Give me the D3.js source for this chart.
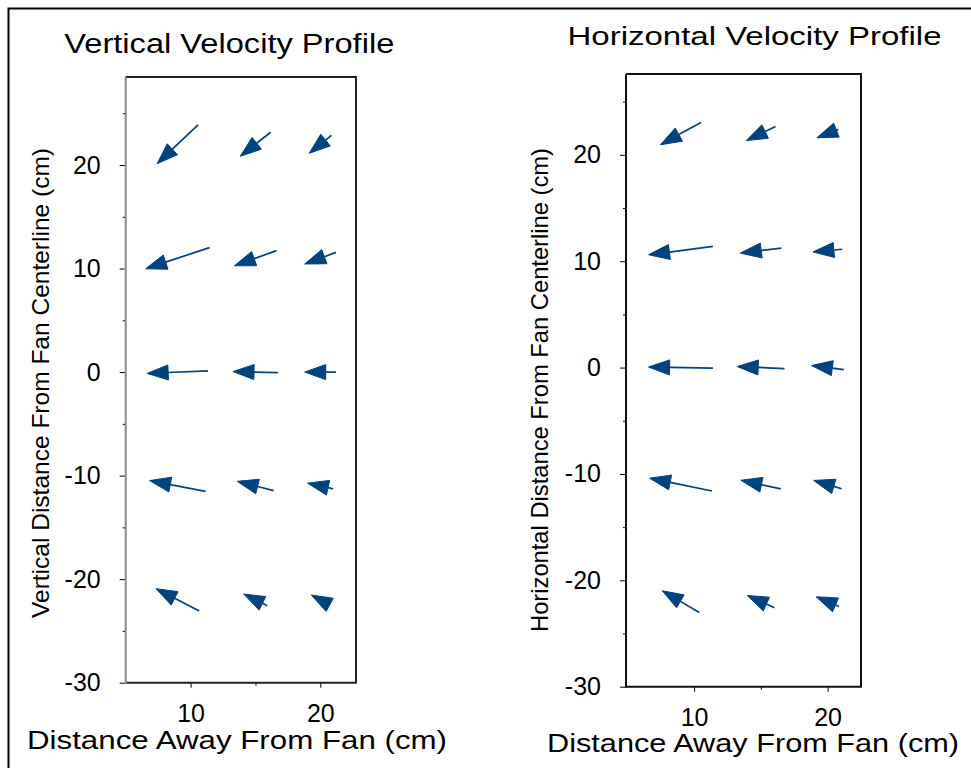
<!DOCTYPE html>
<html>
<head>
<meta charset="utf-8">
<script src="https://cdn.jsdelivr.net/npm/d3@7"></script>
<style>
  body { margin: 0; background: #fff; }
  text { font-family: Arial, "Liberation Sans", sans-serif; fill: #000; }
</style>
</head>
<body>
<div class="figure"></div>
<script>
// grid of measurement points (cm), arrows are centred on them
var gridX = [9, 15, 20];
var gridY = [22, 11, 0, -11, -22];

// vector components, one row per gridY value, one column per gridX value
var verticalU = [
  [-3.15, -2.34, -1.71],
  [-4.92, -3.25, -2.41],
  [-4.69, -3.46, -2.41],
  [-4.31, -2.81, -1.97],
  [-3.33, -1.82, -1.41]
];
var verticalV = [
  [-3.74, -2.32, -1.74],
  [-2.04, -1.46, -1.12],
  [-0.25,  0.10,  0.00],
  [ 1.04,  0.90,  0.55],
  [ 2.16,  1.13,  0.94]
];
var horizontalU = [
  [-3.04, -2.19, -1.61],
  [-4.82, -3.07, -2.20],
  [-4.82, -3.54, -2.42],
  [-4.67, -2.99, -2.09],
  [-2.77, -2.04, -1.72]
];
var horizontalV = [
  [-2.10, -1.32, -0.79],
  [-0.78, -0.47, -0.25],
  [ 0.10,  0.19,  0.38],
  [ 1.20,  0.81,  0.78],
  [ 2.04,  1.15,  0.91]
];

var yTicks = [-30, -25, -20, -15, -10, -5, 0, 5, 10, 15, 20, 25];
var xTicks = [10, 15, 20];

var arrowColor = "#00437f";
var headLen = 21, headHalf = 7.5;

var svg = d3.select(".figure").append("svg")
    .attr("width", 971)
    .attr("height", 768);

// outer frame (runs off the right and bottom of the picture)
svg.append("path")
    .attr("d", "M990,8.5 H8.5 V790")
    .attr("fill", "none")
    .attr("stroke", "#000")
    .attr("stroke-width", 2);

function drawPanel(p) {
  var x = d3.scaleLinear().domain(p.xDomain).range([p.left, p.right]);
  var y = d3.scaleLinear().domain(p.yDomain).range([p.bottom, p.top]);

  var g = svg.append("g");

  // y axis
  var yAxis = g.append("g")
      .attr("transform", "translate(" + p.left + ",0)")
      .call(d3.axisLeft(y)
        .tickValues(yTicks)
        .tickSize(6)
        .tickSizeOuter(0)
        .tickPadding(19)
        .tickFormat(function(d) { return d % 10 === 0 ? d : ""; }));
  yAxis.select(".domain").remove();
  yAxis.selectAll(".tick line")
      .attr("x2", function(d) { return d % 10 === 0 ? -6 : -3; })
      .attr("stroke", "#000");
  yAxis.selectAll(".tick text")
      .style("font-size", "25px")
      .attr("font-family", null);

  // x axis
  var xAxis = g.append("g")
      .attr("transform", "translate(0," + p.bottom + ")")
      .call(d3.axisBottom(x)
        .tickValues(xTicks)
        .tickSize(5)
        .tickSizeOuter(0)
        .tickPadding(17)
        .tickFormat(function(d) { return d % 10 === 0 ? d : ""; }));
  xAxis.select(".domain").remove();
  xAxis.selectAll(".tick line")
      .attr("y2", function(d) { return d % 10 === 0 ? 5 : 3; });
  xAxis.selectAll(".tick text")
      .style("font-size", "25px")
      .attr("font-family", null);

  // frame around the plot
  g.append("path")
      .attr("d", "M" + p.left + "," + p.top + " H" + p.right + " V" + p.bottom + " H" + p.left)
      .attr("fill", "none")
      .attr("stroke", p.frameColor)
      .attr("stroke-width", 2);
  g.append("line")
      .attr("x1", p.left).attr("x2", p.left)
      .attr("y1", p.top).attr("y2", p.bottom + 1)
      .attr("stroke", p.leftColor)
      .attr("stroke-width", 2);

  // arrows
  var arrows = [];
  gridY.forEach(function(gy, i) {
    gridX.forEach(function(gx, j) {
      arrows.push({x: gx, y: gy, u: p.u[i][j], v: p.v[i][j]});
    });
  });

  arrows.forEach(function(a) {
    var tx = x(a.x - a.u / 2), ty = y(a.y - a.v / 2);
    var hx = x(a.x + a.u / 2), hy = y(a.y + a.v / 2);
    var len = Math.sqrt((hx - tx) * (hx - tx) + (hy - ty) * (hy - ty));
    var dx = (hx - tx) / len, dy = (hy - ty) / len;
    var bx = hx - dx * headLen, by = hy - dy * headLen;
    if (len > headLen) {
      g.append("line")
          .attr("x1", tx).attr("y1", ty)
          .attr("x2", bx).attr("y2", by)
          .attr("stroke", arrowColor)
          .attr("stroke-width", 1.7);
    }
    g.append("path")
        .attr("d", "M" + hx + "," + hy +
                   " L" + (bx - dy * headHalf) + "," + (by + dx * headHalf) +
                   " L" + (bx + dy * headHalf) + "," + (by - dx * headHalf) + " Z")
        .attr("fill", arrowColor)
        .attr("stroke", arrowColor)
        .attr("stroke-width", 1);
  });

  // titles
  g.append("text")
      .attr("x", p.titleX).attr("y", p.titleY)
      .attr("text-anchor", "middle")
      .attr("textLength", p.titleLen)
      .attr("lengthAdjust", "spacingAndGlyphs")
      .style("font-size", p.titleSize + "px")
      .text(p.title);

  g.append("text")
      .attr("x", p.xLabelX).attr("y", p.xLabelY)
      .attr("text-anchor", "middle")
      .attr("textLength", p.xLabelLen)
      .attr("lengthAdjust", "spacingAndGlyphs")
      .style("font-size", "25.5px")
      .text("Distance Away From Fan (cm)");

  g.append("text")
      .attr("transform", "translate(" + p.yLabelX + "," + p.yLabelY + ") rotate(-90)")
      .attr("text-anchor", "middle")
      .attr("textLength", p.yLabelLen)
      .attr("lengthAdjust", "spacingAndGlyphs")
      .style("font-size", "24px")
      .text(p.yLabel);
}

drawPanel({
  left: 125.7, right: 356, top: 77, bottom: 682.7,
  xDomain: [5, 22.75], yDomain: [-30, 28.5],
  frameColor: "#222", leftColor: "#8a8a8a",
  u: verticalU, v: verticalV,
  title: "Vertical Velocity Profile", titleX: 229.3, titleY: 52.7, titleLen: 330, titleSize: 27,
  xLabelX: 237, xLabelY: 749.3, xLabelLen: 420,
  yLabel: "Vertical Distance From Fan Centerline (cm)", yLabelX: 49, yLabelY: 383, yLabelLen: 470
});

drawPanel({
  left: 626, right: 861, top: 74, bottom: 686.7,
  xDomain: [4.9, 22.5], yDomain: [-30, 27.6],
  frameColor: "#111", leftColor: "#111",
  u: horizontalU, v: horizontalV,
  title: "Horizontal Velocity Profile", titleX: 754.5, titleY: 45, titleLen: 374, titleSize: 25,
  xLabelX: 753, xLabelY: 751.7, xLabelLen: 412,
  yLabel: "Horizontal Distance From Fan Centerline (cm)", yLabelX: 548, yLabelY: 390, yLabelLen: 484
});
</script>
</body>
</html>
